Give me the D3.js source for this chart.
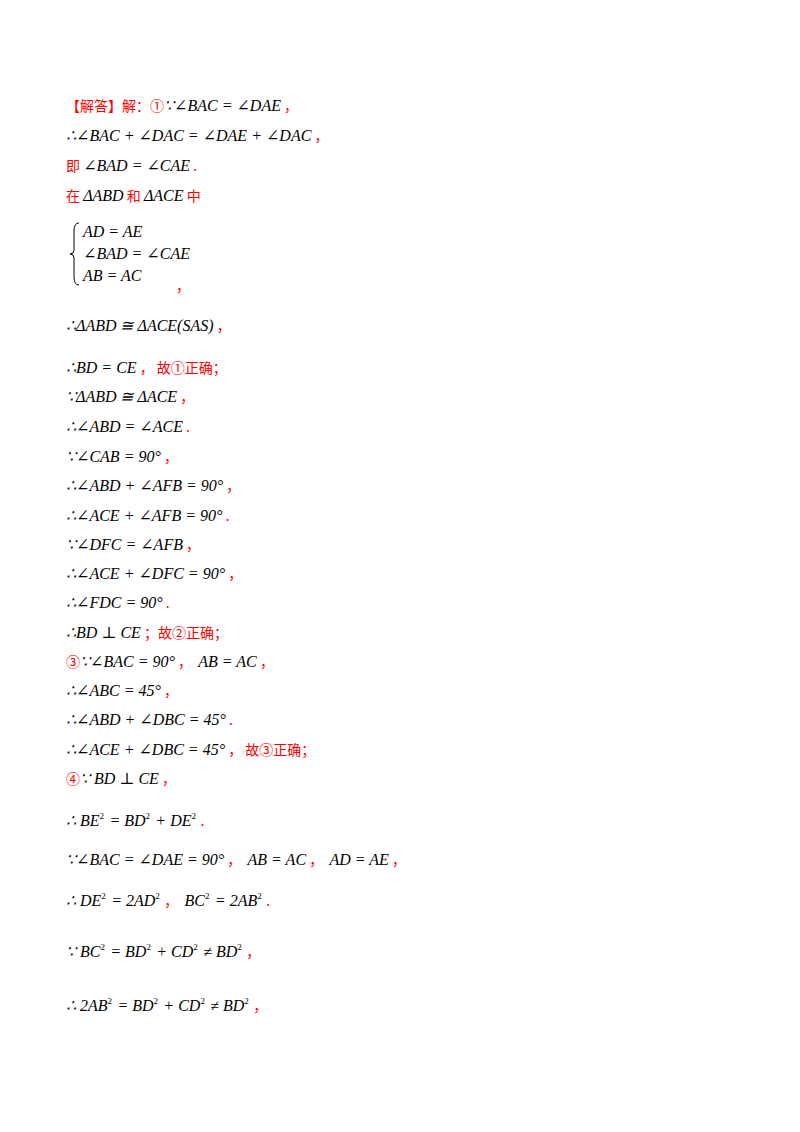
<!DOCTYPE html>
<html><head><meta charset="utf-8">
<script src="https://cdn.jsdelivr.net/npm/d3@7"></script>
<style>body{margin:0;background:#fff}</style>
</head><body>
<script>
// each line: baseline y, then segments [kind, text]; m = math, r = red text
const lines = [
  [111, [["r","【解答】解：①"],["m","∵∠BAC = ∠DAE"],["r"," ，"]]],
  [141, [["m","∴∠BAC + ∠DAC = ∠DAE + ∠DAC"],["r"," ，"]]],
  [171, [["r","即 "],["m","∠BAD = ∠CAE"],["r"," ."]]],
  [201, [["r","在 "],["m","ΔABD"],["r"," 和 "],["m","ΔACE"],["r"," 中"]]],
  [331, [["m","∴ΔABD ≅ ΔACE(SAS)"],["r"," ，"]]],
  [373, [["m","∴BD = CE"],["r"," ， 故①正确；"]]],
  [402, [["m","∵ΔABD ≅ ΔACE"],["r"," ，"]]],
  [432, [["m","∴∠ABD = ∠ACE"],["r"," ."]]],
  [462, [["m","∵∠CAB = 90°"],["r"," ，"]]],
  [491, [["m","∴∠ABD + ∠AFB = 90°"],["r"," ，"]]],
  [521, [["m","∴∠ACE + ∠AFB = 90°"],["r"," ."]]],
  [550, [["m","∵∠DFC = ∠AFB"],["r"," ，"]]],
  [579, [["m","∴∠ACE + ∠DFC = 90°"],["r"," ，"]]],
  [608, [["m","∴∠FDC = 90°"],["r"," ."]]],
  [638, [["m","∴BD ⊥ CE"],["r"," ；故②正确；"]]],
  [667, [["r","③"],["m","∵∠BAC = 90°"],["r"," ，  "],["m","AB = AC"],["r"," ，"]]],
  [696, [["m","∴∠ABC = 45°"],["r"," ，"]]],
  [725, [["m","∴∠ABD + ∠DBC = 45°"],["r"," ."]]],
  [755, [["m","∴∠ACE + ∠DBC = 45°"],["r"," ， 故③正确；"]]],
  [784, [["r","④"],["m","∵ BD ⊥ CE"],["r"," ，"]]],
  [826, [["m","∴ BE^2 = BD^2 + DE^2"],["r"," ."]]],
  [865, [["m","∵∠BAC = ∠DAE = 90°"],["r"," ，  "],["m","AB = AC"],["r"," ，  "],["m","AD = AE"],["r"," ，"]]],
  [906, [["m","∴ DE^2 = 2AD^2"],["r"," ，  "],["m","BC^2 = 2AB^2"],["r"," ."]]],
  [957, [["m","∵ BC^2 = BD^2 + CD^2 ≠ BD^2"],["r"," ，"]]],
  [1011, [["m","∴ 2AB^2 = BD^2 + CD^2 ≠ BD^2"],["r"," ，"]]]
];
const systemRows = ["AD = AE", "∠BAD = ∠CAE", "AB = AC"];
const systemY = [237, 259, 281];

const svg = d3.select("body").append("svg").attr("width", 800).attr("height", 1132);
const x0 = 66;
const red = "#ff0000";
const serif = "'Liberation Serif', 'DejaVu Serif', serif";

function addMath(t, str) {
  str.split(/(\^2)/).forEach(p => {
    if (p === "^2") {
      t.append("tspan").attr("font-family", serif).attr("font-size", 9).attr("dy", -7).text("2");
      t.append("tspan").attr("font-family", serif).attr("font-size", 16).attr("dy", 7).text("\u200a");
    } else if (p) {
      t.append("tspan").attr("font-family", serif).attr("font-style", "italic").attr("font-size", 16).text(p);
    }
  });
}

lines.forEach(([y, segs]) => {
  const t = svg.append("text").attr("x", x0).attr("y", y)
    .attr("xml:space", "preserve");
  segs.forEach(([k, s]) => {
    if (k === "m") addMath(t, s);
    else t.append("tspan").attr("fill", red).attr("font-size", 14)
      .attr("font-family", "'Noto Sans CJK SC', sans-serif").text(s);
  });
});

// equation system with brace
const sys = svg.append("g");
sys.selectAll("text").data(systemRows).join("text")
  .attr("x", x0 + 17).attr("y", (d, i) => systemY[i])
  .attr("font-family", serif)
  .attr("font-style", "italic").attr("font-size", 16).text(d => d);
const bx = x0 + 13, bTop = systemY[0] - 14, bBot = systemY[2] + 4, bMid = (bTop + bBot) / 2;
sys.append("path")
  .attr("d", `M${bx},${bTop} Q${bx-5},${bTop} ${bx-5},${bTop+8} L${bx-5},${bMid-4} Q${bx-5},${bMid} ${bx-9},${bMid} Q${bx-5},${bMid} ${bx-5},${bMid+4} L${bx-5},${bBot-8} Q${bx-5},${bBot} ${bx},${bBot}`)
  .attr("fill", "none").attr("stroke", "#000").attr("stroke-width", 1);
svg.append("text").attr("x", 176).attr("y", 291).attr("fill", red)
  .attr("font-size", 14).attr("font-family", "'Noto Sans CJK SC', sans-serif").text("，");
</script>
</body></html>
